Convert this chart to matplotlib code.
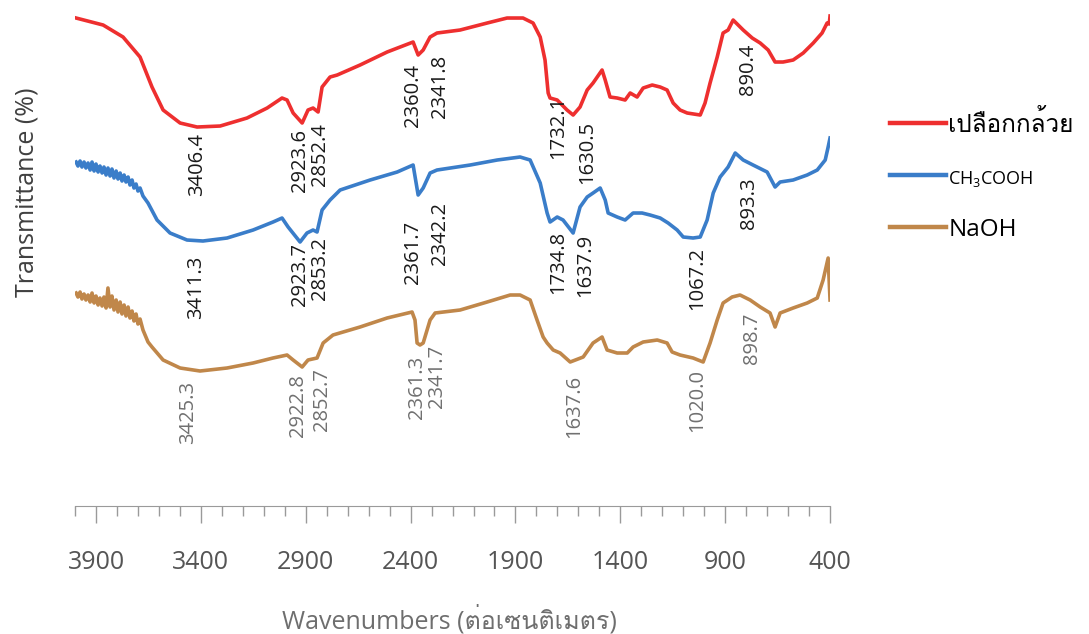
import matplotlib
matplotlib.use("Agg")
import matplotlib.pyplot as plt
from matplotlib import font_manager
from matplotlib.ft2font import FT2Font
from matplotlib.ticker import MultipleLocator, FixedLocator

# FTIR spectra (wavenumber cm-1, transmittance in arbitrary offset units)
peel_wn = [3995, 3866, 3771, 3690, 3633, 3580, 3499, 3418, 3308, 3180, 3084, 3013, 2989, 2960,
           2917, 2889, 2865, 2841, 2822, 2784, 2750, 2641, 2512, 2388, 2364, 2340, 2307, 2274,
           2164, 2035, 1940, 1864, 1816, 1782, 1759, 1744, 1735, 1701, 1654, 1625, 1592, 1558,
           1530, 1487, 1472, 1449, 1415, 1377, 1353, 1320, 1291, 1248, 1210, 1177, 1148, 1115,
           1081, 1019, 996, 972, 938, 910, 886, 862, 814, 771, 733, 695, 662, 624, 576, 528,
           480, 438, 414, 404, 400]
peel_t = [97.6, 96.2, 93.8, 89.8, 83.8, 79.2, 76.6, 75.8, 76.0, 77.6, 79.6, 81.6, 81.2, 78.6,
          76.6, 79.2, 79.6, 78.8, 83.8, 85.8, 86.2, 88.2, 90.8, 92.8, 90.2, 91.2, 93.8, 94.6,
          95.2, 96.6, 97.6, 97.6, 96.6, 93.8, 89.2, 82.6, 81.6, 81.2, 79.2, 78.2, 79.8, 83.2,
          84.6, 87.2, 85.2, 81.8, 81.6, 81.2, 82.6, 81.8, 83.6, 84.2, 83.8, 83.2, 80.6, 79.2,
          78.6, 78.2, 80.6, 84.6, 89.8, 94.6, 95.2, 97.2, 95.2, 93.6, 92.6, 91.2, 88.8, 88.8,
          89.2, 90.6, 92.6, 94.6, 96.6, 96.4, 98.0]

acid_wn = [3995, 3986, 3976, 3967, 3957, 3948, 3938, 3928, 3919, 3909, 3900, 3890, 3881, 3871,
           3862, 3852, 3843, 3833, 3824, 3814, 3804, 3795, 3785, 3776, 3766, 3757, 3747, 3738,
           3728, 3719, 3709, 3700, 3690, 3676, 3652, 3609, 3547, 3466, 3390, 3275, 3151, 3056,
           3013, 2984, 2927, 2894, 2865, 2846, 2822, 2784, 2736, 2593, 2464, 2388, 2364, 2340,
           2307, 2274, 2116, 1987, 1878, 1830, 1782, 1749, 1735, 1701, 1673, 1625, 1592, 1558,
           1530, 1496, 1472, 1458, 1415, 1377, 1339, 1296, 1258, 1210, 1172, 1129, 1100, 1053,
           1019, 986, 957, 924, 886, 852, 814, 767, 700, 662, 638, 576, 509, 461, 423, 409, 400]
acid_t = [68.8, 68.0, 69.0, 67.8, 68.8, 67.6, 68.6, 67.2, 68.8, 67.0, 68.4, 66.8, 68.0, 66.6,
          67.8, 66.2, 67.6, 66.0, 67.4, 65.6, 67.0, 65.4, 66.6, 65.0, 66.2, 64.8, 65.8, 64.2,
          65.2, 63.6, 64.4, 63.0, 63.6, 62.0, 60.6, 57.2, 54.6, 53.2, 53.0, 53.6, 55.2, 56.8,
          57.6, 55.8, 52.8, 54.6, 55.2, 54.8, 59.2, 61.2, 63.2, 65.2, 66.8, 68.2, 62.2, 63.6,
          66.6, 67.2, 68.2, 69.2, 69.8, 69.2, 64.6, 58.6, 56.8, 57.8, 57.2, 54.6, 59.8, 61.8,
          62.6, 63.6, 61.2, 58.6, 57.8, 57.2, 58.6, 58.6, 58.2, 57.6, 56.6, 55.2, 53.8, 53.6,
          53.8, 57.2, 62.6, 65.8, 67.8, 70.6, 69.2, 68.2, 66.8, 63.8, 64.8, 65.2, 66.2, 67.2,
          69.2, 71.8, 73.6]

naoh_wn = [3995, 3986, 3976, 3967, 3957, 3948, 3938, 3928, 3919, 3909, 3900, 3890, 3881, 3871,
           3862, 3852, 3843, 3833, 3824, 3814, 3804, 3795, 3785, 3776, 3766, 3757, 3747, 3738,
           3728, 3719, 3709, 3700, 3690, 3676, 3652, 3633, 3580, 3499, 3404, 3275, 3151, 3056,
           2989, 2960, 2917, 2889, 2846, 2817, 2770, 2641, 2512, 2393, 2379, 2369, 2355, 2340,
           2307, 2283, 2164, 2035, 1925, 1878, 1830, 1797, 1768, 1749, 1720, 1687, 1639, 1577,
           1530, 1487, 1463, 1415, 1367, 1339, 1291, 1224, 1177, 1153, 1115, 1053, 1005, 972,
           938, 910, 867, 829, 781, 733, 686, 662, 638, 576, 509, 461, 433, 409, 400]
naoh_t = [42.6, 41.8, 42.8, 41.4, 42.4, 41.2, 42.2, 40.8, 42.6, 40.6, 42.0, 40.2, 41.6, 40.0,
          41.8, 39.6, 43.6, 39.8, 42.0, 39.2, 41.2, 38.8, 40.8, 38.4, 40.2, 38.0, 39.8, 37.6,
          39.0, 37.0, 38.4, 36.4, 37.4, 35.2, 32.8, 31.8, 29.2, 27.6, 27.0, 27.6, 28.6, 29.6,
          30.2, 29.2, 27.8, 29.2, 29.6, 32.6, 34.2, 35.8, 37.6, 38.8, 37.2, 32.6, 32.2, 32.6,
          37.2, 38.6, 39.2, 40.8, 42.2, 42.2, 41.2, 37.2, 33.8, 32.6, 31.2, 30.6, 28.8, 29.8,
          32.6, 33.8, 31.2, 30.6, 30.6, 31.8, 32.8, 33.2, 32.6, 30.8, 30.2, 29.6, 28.8, 32.6,
          37.2, 40.6, 41.8, 42.2, 41.2, 39.8, 38.6, 35.8, 38.6, 39.6, 40.6, 41.6, 45.2, 49.6,
          41.2]

# peak annotations: (text, wavenumber position, transmittance position)
peel_peaks = [("3406.4", 3418, 68.4), ("2923.6", 2927, 69.2), ("2852.4", 2832, 70.2),
              ("2360.4", 2388, 82.2), ("2341.8", 2259, 84.0), ("1732.1", 1697, 75.8),
              ("1630.5", 1558, 70.8), ("890.4", 790, 87.4)]
acid_peaks = [("3411.3", 3423, 43.8), ("2923.7", 2927, 46.4), ("2853.2", 2832, 47.6),
              ("2361.7", 2388, 50.8), ("2342.2", 2259, 54.6), ("1734.8", 1697, 48.8),
              ("1637.9", 1568, 48.2), ("1067.2", 1034, 45.6), ("893.3", 786, 60.6)]
naoh_peaks = [("3425.3", 3461, 18.8), ("2922.8", 2937, 20.0), ("2852.7", 2822, 21.2),
              ("2361.3", 2369, 23.8), ("2341.7", 2274, 26.0), ("1637.6", 1620, 20.0),
              ("1020.0", 1034, 21.2), ("898.7", 771, 33.6)]

series_labels = ["เปลือกกล้วย", "CH$_3$COOH", "NaOH"]
colors = ["#EE2F2F", "#3A7DC9", "#C0874A"]


def _thai_font():
    """Look for any installed font that carries Thai glyphs."""
    for f in font_manager.fontManager.ttflist:
        try:
            if 0x0E40 in FT2Font(f.fname).get_charmap():
                return f.name
        except Exception:
            continue
    return None


base = "Open Sans"
thai = _thai_font()
fams = [base] + ([thai] if thai else []) + ["DejaVu Sans"]
plt.rcParams["font.family"] = fams
plt.rcParams["mathtext.default"] = "regular"

fig = plt.figure(figsize=(10.89, 6.34), dpi=100)
ax = fig.add_axes([0.0689, 0.2019, 0.6933, 0.7886])

lines = []
for wn, t, c in zip([peel_wn, acid_wn, naoh_wn], [peel_t, acid_t, naoh_t], colors):
    ln, = ax.plot(wn, t, color=c, lw=2.6, solid_joinstyle="round")
    lines.append(ln)

for peaks, col in [(peel_peaks, "#1a1a1a"), (acid_peaks, "#1a1a1a"), (naoh_peaks, "#707070")]:
    for txt, x, y in peaks:
        ax.text(x, y, txt, rotation=90, ha="center", va="center", fontsize=14.5, color=col)

ax.set_xlim(4000, 400)
ax.set_ylim(0, 100)
ax.xaxis.set_major_locator(FixedLocator([3900, 3400, 2900, 2400, 1900, 1400, 900, 400]))
ax.xaxis.set_minor_locator(MultipleLocator(100))
ax.tick_params(axis="x", which="major", length=12, width=1, color="#9a9a9a",
               labelsize=18, labelcolor="#555555", pad=20)
ax.tick_params(axis="x", which="minor", length=7, width=1, color="#9a9a9a")
ax.set_yticks([])
for s in ("left", "right", "top"):
    ax.spines[s].set_visible(False)
ax.spines["bottom"].set_color("#9a9a9a")
ax.set_facecolor("none")

fig.text(0.025, 0.697, "Transmittance (%)", rotation=90, ha="center", va="center",
         fontsize=18, color="#404040")
fig.text(0.413, 0.022, "Wavenumbers (ต่อเซนติเมตร)", ha="center", va="center",
         fontsize=18, color="#6e6e6e")

leg = fig.legend(lines, series_labels, loc="center left", bbox_to_anchor=(0.797, 0.722),
                 frameon=False, handlelength=2.3, handletextpad=0.1, labelspacing=1.2,
                 fontsize=17.5)
for ln in leg.get_lines():
    ln.set_linewidth(3.2)
leg.get_texts()[1].set_fontsize(13)

fig.savefig("out.png", dpi=100)
